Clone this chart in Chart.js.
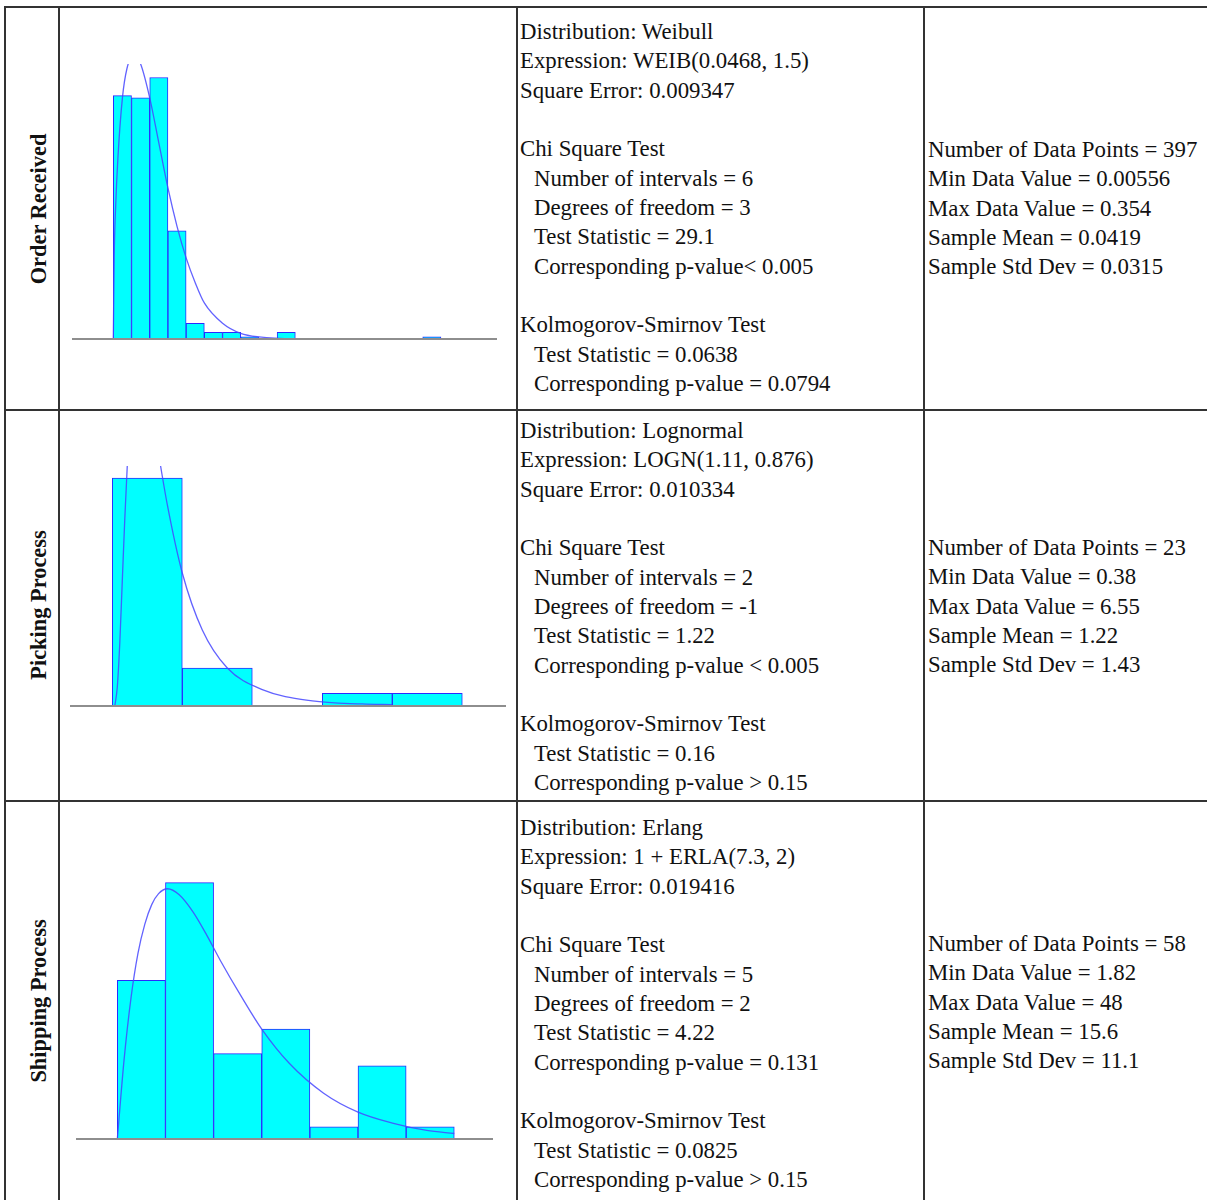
<!DOCTYPE html>
<html>
<head>
<meta charset="utf-8">
<script src="https://cdn.jsdelivr.net/npm/chart.js@4.4.1/dist/chart.umd.min.js"></script>
<style>
  html, body { margin: 0; padding: 0; background: #fff; }
  body { width: 1207px; height: 1200px; position: relative; overflow: hidden;
         font-family: "Liberation Serif", "Times New Roman", serif; color: #111; }
  .hl { position: absolute; height: 2px; background: #333; }
  .vl { position: absolute; width: 2px; background: #333; }
  .txt { position: absolute; font-size: 22.8px; line-height: 29.33px; white-space: pre; }
  .txt div { height: 29.33px; }
  .txt .ind { padding-left: 14px; }
  .lbl { position: absolute; font-weight: bold; font-size: 22.4px; white-space: nowrap;
         transform: translate(-50%, -50%) rotate(-90deg); }
  canvas { position: absolute; }
</style>
</head>
<body>

<div class="hl" style="left:4px; top:6px; width:1203px;"></div>
<div class="hl" style="left:4px; top:409px; width:1203px;"></div>
<div class="hl" style="left:4px; top:800px; width:1203px;"></div>
<div class="vl" style="left:4px; top:6px; height:1194px;"></div>
<div class="vl" style="left:58px; top:6px; height:1194px;"></div>
<div class="vl" style="left:516px; top:6px; height:1194px;"></div>
<div class="vl" style="left:923px; top:6px; height:1194px;"></div>

<div class="lbl" style="left:39px; top:209px;">Order Received</div>
<div class="lbl" style="left:39px; top:605px;">Picking Process</div>
<div class="lbl" style="left:39px; top:1001px;">Shipping Process</div>

<canvas id="order" width="425" height="278" style="left:72px; top:64px;"></canvas>
<canvas id="picking" width="436" height="243" style="left:70px; top:466px;"></canvas>
<canvas id="shipping" width="417" height="285" style="left:76px; top:857px;"></canvas>

<div class="txt" id="fit1" style="left:520px; top:17px;"></div>
<div class="txt" id="fit2" style="left:520px; top:416px;"></div>
<div class="txt" id="fit3" style="left:520px; top:813px;"></div>
<div class="txt" id="stat1" style="left:928px; top:135px;"></div>
<div class="txt" id="stat2" style="left:928px; top:533px;"></div>
<div class="txt" id="stat3" style="left:928px; top:929px;"></div>

<script>
// Order Received: Weibull fit, bins of 0.02
const orderEdges = [0, 0.02, 0.04, 0.06, 0.08, 0.10, 0.12, 0.14, 0.16, 0.18, 0.20, 0.22, 0.24, 0.26, 0.28, 0.30, 0.32, 0.34, 0.36];
const orderCounts = [108, 107, 116, 48, 7, 3, 3, 1, 0, 3, 0, 0, 0, 0, 0, 0, 0, 1];
const orderCurveX = [0, 0.001, 0.0025, 0.005, 0.01, 0.015, 0.0225, 0.03, 0.04, 0.05, 0.06, 0.07, 0.08, 0.09, 0.10, 0.12, 0.14, 0.16, 0.20, 0.378];
const orderCurveY = [0, 37, 58, 80, 107, 120, 126, 122, 107, 87, 67, 50, 36, 25, 16, 7, 2.5, 0.9, 0.1, 0];

// Picking Process: Lognormal fit, bins of 1.4
const pickEdges = [0, 1.4, 2.8, 4.2, 5.6, 7.0];
const pickCounts = [18, 3, 0, 1, 1];
const pickCurveX = [0.05, 0.1, 0.15, 0.2, 0.25, 0.3, 0.4, 0.54, 0.7, 0.9, 1.1, 1.4, 1.8, 2.3, 3, 4, 5, 5.6];
const pickCurveY = [0, 1.5, 5, 9.9, 14.8, 19, 24.7, 27, 25.1, 20.5, 15.9, 10.5, 6, 3, 1.3, 0.4, 0.16, 0.1];

// Shipping Process: Erlang fit, bins of 7
const shipEdges = [1, 8, 15, 22, 29, 36, 43, 50];
const shipCounts = [13, 21, 7, 9, 1, 6, 1];
const shipCurveX = [1, 2, 3, 4, 5, 6, 7, 8.3, 10, 12, 14, 16, 19, 22, 26, 31, 36, 41, 46, 50];
const shipCurveY = [0, 6.6, 11.6, 15.2, 17.6, 19.2, 20.1, 20.5, 20, 18.6, 16.7, 14.6, 11.7, 9, 6.2, 3.75, 2.2, 1.3, 0.7, 0.45];

const fitText = [
  ['Distribution: Weibull', 'Expression: WEIB(0.0468, 1.5)', 'Square Error: 0.009347', '',
   'Chi Square Test', '>Number of intervals = 6', '>Degrees of freedom = 3', '>Test Statistic = 29.1',
   '>Corresponding p-value< 0.005', '', 'Kolmogorov-Smirnov Test', '>Test Statistic = 0.0638',
   '>Corresponding p-value = 0.0794'],
  ['Distribution: Lognormal', 'Expression: LOGN(1.11, 0.876)', 'Square Error: 0.010334', '',
   'Chi Square Test', '>Number of intervals = 2', '>Degrees of freedom = -1', '>Test Statistic = 1.22',
   '>Corresponding p-value < 0.005', '', 'Kolmogorov-Smirnov Test', '>Test Statistic = 0.16',
   '>Corresponding p-value > 0.15'],
  ['Distribution: Erlang', 'Expression: 1 + ERLA(7.3, 2)', 'Square Error: 0.019416', '',
   'Chi Square Test', '>Number of intervals = 5', '>Degrees of freedom = 2', '>Test Statistic = 4.22',
   '>Corresponding p-value = 0.131', '', 'Kolmogorov-Smirnov Test', '>Test Statistic = 0.0825',
   '>Corresponding p-value > 0.15']
];
const statText = [
  ['Number of Data Points = 397', 'Min Data Value = 0.00556', 'Max Data Value = 0.354', 'Sample Mean = 0.0419', 'Sample Std Dev = 0.0315'],
  ['Number of Data Points = 23', 'Min Data Value = 0.38', 'Max Data Value = 6.55', 'Sample Mean = 1.22', 'Sample Std Dev = 1.43'],
  ['Number of Data Points = 58', 'Min Data Value = 1.82', 'Max Data Value = 48', 'Sample Mean = 15.6', 'Sample Std Dev = 11.1']
];

function fillText(id, lines) {
  const box = document.getElementById(id);
  lines.forEach(line => {
    const d = document.createElement('div');
    if (line.startsWith('>')) {
      d.className = 'ind';
      line = line.slice(1);
    }
    d.textContent = line;
    box.appendChild(d);
  });
}

function histogram(id, edges, counts, curveX, curveY, xMin, xMax, yMax) {
  const bars = counts.map((c, i) => ({ x: (edges[i] + edges[i + 1]) / 2, y: c }));
  const curve = curveX.map((x, i) => ({ x: x, y: curveY[i] }));
  return new Chart(document.getElementById(id), {
    data: {
      datasets: [
        {
          type: 'line',
          data: curve,
          borderColor: 'rgba(70,70,255,0.85)',
          borderWidth: 1.3,
          pointRadius: 0,
          cubicInterpolationMode: 'monotone',
          order: 0
        },
        {
          type: 'bar',
          data: bars,
          backgroundColor: '#00ffff',
          borderColor: '#2a2aff',
          borderWidth: 1,
          barPercentage: 1,
          categoryPercentage: 1,
          order: 1
        }
      ]
    },
    options: {
      responsive: false,
      animation: false,
      layout: { padding: { bottom: 3 } },
      plugins: { legend: { display: false }, tooltip: { enabled: false } },
      scales: {
        x: {
          type: 'linear',
          min: xMin,
          max: xMax,
          offset: false,
          grid: { display: false, drawTicks: false, offset: false },
          ticks: { display: false },
          border: { display: true, color: '#8e8e8e', width: 2, z: 1 },
          // bin edges as ticks so bars are exactly one bin wide
          afterBuildTicks: axis => { axis.ticks = edges.map(v => ({ value: v })); }
        },
        y: { display: false, min: 0, max: yMax }
      }
    }
  });
}

document.addEventListener('DOMContentLoaded', () => {
  fitText.forEach((lines, i) => fillText('fit' + (i + 1), lines));
  statText.forEach((lines, i) => fillText('stat' + (i + 1), lines));

  histogram('order', orderEdges, orderCounts, orderCurveX, orderCurveY, -0.0454, 0.4216, 122);
  histogram('picking', pickEdges, pickCounts, pickCurveX, pickCurveY, -0.846, 7.874, 18.95);
  histogram('shipping', shipEdges, shipCounts, shipCurveX, shipCurveY, -5.01, 55.63, 23.1);
});
</script>
</body>
</html>
